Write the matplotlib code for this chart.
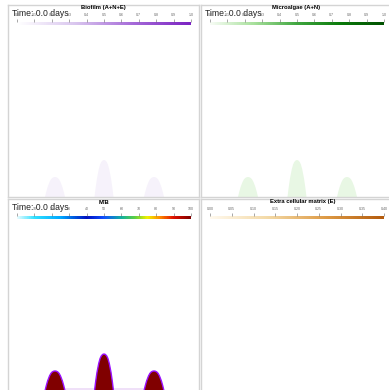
import numpy as np
import matplotlib
matplotlib.use("Agg")
import matplotlib.pyplot as plt
from matplotlib.colors import LinearSegmentedColormap, Normalize
from matplotlib.cm import ScalarMappable

plt.rcParams['font.family'] = ['Liberation Sans', 'DejaVu Sans']

W, H = 389, 390

# colony layout inside a panel (panel is 191 x 192 px, origin bottom-left)
colony_x = [47, 96, 146]
colony_height = [20, 37, 20]
colony_halfwidth = [10.0, 9.5, 10.0]
# half-profile of one colony: relative height vs relative half-width
profile_frac = [0.0, 0.25, 0.5, 0.75, 0.88, 0.95, 0.99, 1.0]
profile_half = [1.0, 0.88, 0.74, 0.55, 0.41, 0.28, 0.13, 0.0]

time_label = "Time: 0.0 days"

titles = ["Biofilm (A+N+E)", "Microalgae (A+N)", "M/B", "Extra cellular matrix (E)"]
ranges = [(0.0, 1.0), (0.0, 1.0), (0.0, 100.0), (0.0, 0.40)]
ticks = [np.round(np.arange(0, 1.01, 0.1), 1),
         np.round(np.arange(0, 1.01, 0.1), 1),
         np.arange(0, 101, 10),
         np.round(np.arange(0, 0.401, 0.05), 2)]
tick_fmt = ["{:.1f}", "{:.1f}", "{:.0f}", "{:.2f}"]
colony_value = [0.08, 0.05, 100.0, 0.0]
show_time = [True, True, True, False]

cmaps = [
    LinearSegmentedColormap.from_list("biofilm", ["#ffffff", "#d9c6ee", "#a56ad8", "#7a22c2"]),
    LinearSegmentedColormap.from_list("algae", ["#f7fcf5", "#a8e09c", "#3fa63f", "#0a7a0a", "#005000"]),
    LinearSegmentedColormap.from_list("mb", [(0.0, "#e8fbff"), (0.1, "#30e0ff"), (0.25, "#00a8ff"),
                                             (0.4, "#0010c0"), (0.5, "#1050ff"), (0.6, "#10b0a0"),
                                             (0.68, "#60d040"), (0.75, "#f0f000"), (0.82, "#ff9000"),
                                             (0.9, "#e01000"), (1.0, "#800000")]),
    LinearSegmentedColormap.from_list("ecm", ["#fff9ee", "#f3d9a6", "#dd9a45", "#b35a0c"]),
]

# panel boxes in pixels: x0, y0 (top), x1, y1 (bottom)
panels = [(8, 5, 199, 197), (201, 5, 392, 197), (8, 199, 199, 391), (201, 199, 392, 391)]


def px_axes(fig, x0, y0, x1, y1):
    return fig.add_axes([x0 / W, 1 - y1 / H, (x1 - x0) / W, (y1 - y0) / H])


fig = plt.figure(figsize=(W / 100, H / 100), dpi=100)
fig.patch.set_facecolor("white")

half = np.array(profile_half)
frac = np.array(profile_frac)

for i, (x0, y0, x1, y1) in enumerate(panels):
    ax = px_axes(fig, x0, y0, x1, y1)
    ax.set_xlim(0, x1 - x0)
    ax.set_ylim(0, y1 - y0)
    ax.set_xticks([])
    ax.set_yticks([])
    for s in ax.spines.values():
        s.set_color("#d4d4d4")
        s.set_linewidth(1.0)

    norm = Normalize(*ranges[i])
    col = cmaps[i](norm(colony_value[i]))
    if i == 2:
        ax.fill_between([colony_x[0], colony_x[-1]], 0, 2.5, color="#efe0f8", lw=0)
    if colony_value[i] > 0:
        for cx, h, w in zip(colony_x, colony_height, colony_halfwidth):
            xs = np.concatenate([cx - w * half, (cx + w * half)[::-1]])
            ys = np.concatenate([h * frac, (h * frac)[::-1]])
            ax.fill(xs, ys, color=col, lw=0)
            if i == 2:
                ax.plot(xs, ys, color="#9a10ff", lw=1.0)

    if show_time[i]:
        ax.text(4, (y1 - y0) - 8, time_label, fontsize=6.2, color="#222222",
                ha="left", va="center")
    ax.text((x1 - x0) / 2 + (0 if i != 3 else 6), (y1 - y0) - 3, titles[i],
            fontsize=4.2, fontweight="bold", ha="center", va="center")

    # horizontal colour bar at the top of the panel
    bx0 = x0 + 9
    bx1 = bx0 + 174
    cax = px_axes(fig, bx0, y0 + 17, bx1, y0 + 20)
    sm = ScalarMappable(norm=norm, cmap=cmaps[i])
    cb = fig.colorbar(sm, cax=cax, orientation="horizontal", ticks=ticks[i])
    cb.outline.set_visible(False)
    cax.xaxis.set_ticks_position("top")
    cax.set_xticklabels([tick_fmt[i].format(t) for t in ticks[i]])
    cax.tick_params(axis="x", labelsize=2.6, length=2.2, width=0.4, pad=1.2,
                    colors="#666666")

fig.savefig("out.png", dpi=100)
